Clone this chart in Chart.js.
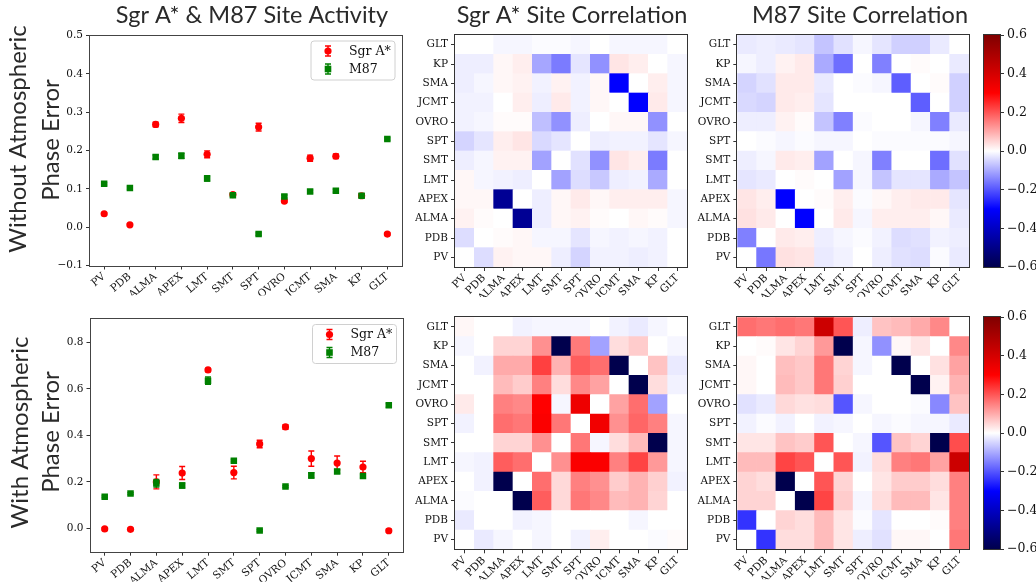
<!DOCTYPE html>
<html>
<head>
<meta charset="utf-8">
<script src="https://cdn.jsdelivr.net/npm/chart.js@4.4.0/dist/chart.umd.min.js"></script>
<style>
  html, body { margin: 0; padding: 0; background: #fff; }
  #fig { position: relative; width: 1036px; height: 586px; overflow: hidden; }
  #fig canvas { position: absolute; left: 0; top: 0; }
</style>
</head>
<body>
<div id="fig"></div>
<script>
// ---- data ----
const sites = ['PV', 'PDB', 'ALMA', 'APEX', 'LMT', 'SMT', 'SPT', 'OVRO', 'JCMT', 'SMA', 'KP', 'GLT'];

// site activity, without atmospheric phase error
const sgrNoAtm    = [0.035, 0.006, 0.268, 0.284, 0.19, 0.085, 0.261, 0.068, 0.18, 0.185, 0.082, -0.018];
const sgrNoAtmErr = [0.003, 0.003, 0.006, 0.011, 0.009, 0.003, 0.01, 0.004, 0.008, 0.006, 0.004, 0.003];
const m87NoAtm    = [0.113, 0.102, 0.183, 0.186, 0.127, 0.083, -0.018, 0.08, 0.093, 0.095, 0.082, 0.23];
const m87NoAtmErr = [0.003, 0.003, 0.005, 0.007, 0.007, 0.004, 0.003, 0.004, 0.004, 0.004, 0.005, 0.003];

// site activity, with atmospheric phase error
const sgrAtm    = [-0.002, -0.004, 0.2, 0.238, 0.681, 0.24, 0.363, 0.436, 0.30, 0.281, 0.264, -0.01];
const sgrAtmErr = [0.005, 0.005, 0.03, 0.028, 0.007, 0.027, 0.016, 0.01, 0.033, 0.03, 0.025, 0.007];
const m87Atm    = [0.136, 0.15, 0.194, 0.184, 0.635, 0.291, -0.009, 0.18, 0.228, 0.245, 0.225, 0.529];
const m87AtmErr = [0.004, 0.004, 0.016, 0.011, 0.016, 0.005, 0.004, 0.004, 0.011, 0.008, 0.007, 0.008];

const yTicksNoAtm = [-0.1, 0, 0.1, 0.2, 0.3, 0.4, 0.5];
const yTicksAtm = [0, 0.2, 0.4, 0.6, 0.8];
const cbTicks = [-0.6, -0.4, -0.2, 0, 0.2, 0.4, 0.6];

// correlation matrices, rows PV..GLT (bottom to top), columns PV..GLT
const sgrCorrNoAtm = [
  [0, -0.04, 0.015, 0.01, 0.01, -0.02, -0.05, -0.015, -0.015, -0.02, -0.015, 0],
  [-0.04, 0, 0.005, 0.01, -0.01, -0.01, -0.03, -0.01, -0.015, -0.01, -0.015, 0],
  [0.015, 0.005, 0, -0.48, -0.02, 0.01, 0.015, 0.005, 0, 0.01, 0.005, -0.01],
  [0.01, 0.01, -0.48, 0, -0.02, 0.01, 0.025, 0.01, 0.02, 0.02, 0.02, -0.01],
  [0.01, -0.01, -0.015, -0.02, 0, -0.11, -0.04, -0.065, -0.02, -0.015, -0.1, 0],
  [-0.02, -0.01, 0.015, 0.015, -0.11, 0, -0.035, -0.13, 0.03, 0.02, -0.155, 0],
  [-0.05, -0.03, 0.02, 0.03, -0.045, -0.03, 0, -0.02, -0.015, -0.015, -0.03, -0.01],
  [-0.015, -0.01, 0.005, 0.005, -0.075, -0.13, -0.02, 0, 0.01, 0.01, -0.13, 0],
  [-0.015, -0.015, 0, 0.02, -0.02, 0.025, -0.015, 0.01, 0, -0.3, 0.025, -0.01],
  [-0.02, -0.01, 0.01, 0.015, -0.015, 0.015, -0.015, 0.01, -0.3, 0, 0.02, -0.01],
  [-0.02, -0.02, 0.01, 0.02, -0.105, -0.155, -0.03, -0.13, 0.03, 0.02, 0, -0.01],
  [0, 0, -0.01, -0.01, -0.005, -0.005, -0.01, 0, -0.01, -0.01, -0.01, 0]
];
const m87CorrNoAtm = [
  [0, -0.16, 0.035, 0.03, -0.025, -0.015, 0, -0.02, -0.035, -0.04, -0.005, -0.025],
  [-0.15, 0, 0.025, 0.02, -0.02, -0.01, -0.005, -0.015, -0.04, -0.035, -0.015, -0.02],
  [0.035, 0.025, 0, -0.3, 0, 0.025, -0.01, 0.02, 0.02, 0.02, 0.01, -0.025],
  [0.03, 0.02, -0.3, 0, 0.005, 0.02, -0.005, 0.01, 0.02, 0.025, 0.025, -0.03],
  [-0.03, -0.025, 0, 0.005, 0, -0.11, -0.01, -0.07, -0.03, -0.03, -0.1, -0.07],
  [-0.02, -0.01, 0.025, 0.02, -0.11, 0, -0.01, -0.15, 0, 0, -0.17, -0.035],
  [0, -0.005, -0.01, -0.005, -0.01, -0.01, 0, -0.005, -0.005, -0.005, -0.005, -0.01],
  [-0.02, -0.02, 0.015, 0.005, -0.07, -0.15, -0.005, 0, 0, -0.01, -0.15, -0.025],
  [-0.045, -0.05, 0.025, 0.02, -0.03, 0, 0, 0, 0, -0.19, 0, -0.055],
  [-0.05, -0.035, 0.025, 0.025, -0.025, 0, -0.005, -0.01, -0.19, 0, 0.005, -0.055],
  [-0.01, -0.02, 0.015, 0.025, -0.1, -0.17, 0, -0.15, 0, 0.005, 0, -0.025],
  [-0.025, -0.02, -0.025, -0.03, -0.07, -0.035, -0.01, -0.03, -0.055, -0.055, -0.025, 0]
];
const sgrCorrAtm = [
  [0, -0.025, -0.01, 0, -0.01, 0, -0.015, 0.02, 0, 0, -0.005, 0.005],
  [-0.025, 0, 0, -0.015, -0.01, 0, 0, 0, 0, -0.01, 0, 0],
  [-0.005, 0, 0, -0.6, 0.19, 0.045, 0.16, 0.14, 0.08, 0.09, 0.05, 0],
  [0, -0.015, -0.6, 0, 0.17, 0.045, 0.15, 0.13, 0.06, 0.09, 0.055, -0.015],
  [-0.01, -0.015, 0.19, 0.17, 0, 0.13, 0.31, 0.31, 0.15, 0.22, 0.12, -0.01],
  [0, 0, 0.05, 0.05, 0.13, 0, 0.16, -0.01, 0.04, 0.08, -0.6, -0.01],
  [-0.015, 0, 0.17, 0.16, 0.31, 0.16, 0, 0.33, 0.13, 0.18, 0.15, -0.01],
  [0.025, 0, 0.15, 0.14, 0.3, -0.01, 0.34, 0, 0.11, 0.17, -0.11, 0],
  [0, 0, 0.08, 0.06, 0.15, 0.04, 0.14, 0.11, 0, -0.6, 0.04, -0.015],
  [0, -0.015, 0.1, 0.1, 0.225, 0.09, 0.19, 0.17, -0.6, 0, 0.07, -0.025],
  [-0.01, 0, 0.05, 0.05, 0.13, -0.6, 0.157, -0.11, 0.04, 0.06, 0, -0.01],
  [0.01, 0, 0, -0.015, -0.01, -0.01, -0.01, 0, -0.015, -0.025, -0.01, 0]
];
const m87CorrAtm = [
  [0, -0.24, 0.04, 0.04, 0.08, 0.03, -0.02, -0.035, 0.01, 0.01, 0, 0.16],
  [-0.24, 0, 0.05, 0.04, 0.08, 0.03, -0.005, -0.03, 0, 0, 0.005, 0.15],
  [0.05, 0.05, 0, -0.6, 0.22, 0.06, -0.01, 0.04, 0.08, 0.08, 0.03, 0.15],
  [0.05, 0.04, -0.6, 0, 0.2, 0.05, 0, 0.03, 0.06, 0.06, 0.04, 0.15],
  [0.08, 0.08, 0.22, 0.2, 0, 0.2, -0.015, 0.04, 0.15, 0.16, 0.11, 0.42],
  [0.03, 0.03, 0.07, 0.06, 0.2, 0, -0.01, -0.2, 0.07, 0.05, -0.6, 0.21],
  [-0.015, -0.005, -0.015, 0, -0.015, -0.01, 0, -0.01, -0.005, -0.01, -0.01, -0.025],
  [-0.035, -0.025, 0.045, 0.035, 0.04, -0.2, -0.01, 0, 0, -0.005, -0.14, 0.07],
  [0.01, 0, 0.08, 0.065, 0.16, 0.055, 0, 0, 0, -0.6, 0.015, 0.09],
  [0.01, 0, 0.075, 0.065, 0.16, 0.05, -0.01, 0, -0.6, 0, 0.035, 0.11],
  [0, 0.005, 0.03, 0.05, 0.12, -0.6, -0.01, -0.13, 0.01, 0.03, 0, 0.14],
  [0.17, 0.16, 0.17, 0.16, 0.42, 0.2, -0.02, 0.07, 0.08, 0.1, 0.14, 0]
];

// ---- styling helpers ----
const RED = '#ff0000';
const GREEN = '#008000';
const SANS = 'Lato, "Open Sans", sans-serif';
const SERIF = '"DejaVu Serif", serif';
const tickFont = { family: SERIF, size: 10.5 };
const cbFont = { family: SERIF, size: 12.5 };
const W = 1036, H = 586;

const fig = document.getElementById('fig');
function addCanvas() {
  const c = document.createElement('canvas');
  c.width = W; c.height = H;
  fig.appendChild(c);
  return c;
}

// pads the canvas so the plot area lands on the given box
function padFor(area, yW, xH, rightW) {
  return { left: area.l - yW, top: area.t, right: W - area.r - (rightW || 0), bottom: H - area.b - xH };
}

const fmtTick = v => (Math.abs(v) < 1e-9 ? 0 : v).toFixed(1).replace('-', '\u2212');

// matplotlib "seismic" colormap, vmin -0.6 / vmax 0.6
const seismicStops = [[0, 0, 0.3], [0, 0, 1], [1, 1, 1], [1, 0, 0], [0.5, 0, 0]];
function seismicAt(t) {
  t = Math.min(1, Math.max(0, t));
  const s = t * 4;
  const i = Math.min(3, Math.floor(s));
  const f = s - i;
  const c = seismicStops[i].map((a, k) => a + (seismicStops[i + 1][k] - a) * f);
  return `rgb(${Math.round(c[0] * 255)},${Math.round(c[1] * 255)},${Math.round(c[2] * 255)})`;
}
const seismic = v => seismicAt((v + 0.6) / 1.2);

const axisGrid = { drawOnChartArea: false, tickLength: 4, color: '#333', lineWidth: 1 };

// ---- plugins ----
const framePlugin = {
  id: 'frame',
  afterDraw(chart, args, opts) {
    const a = chart.chartArea, ctx = chart.ctx;
    ctx.save();
    ctx.strokeStyle = opts.color || '#333';
    ctx.lineWidth = 1;
    ctx.strokeRect(Math.round(a.left) - 0.5, Math.round(a.top) - 0.5,
      Math.round(a.right) - Math.round(a.left) + 1, Math.round(a.bottom) - Math.round(a.top) + 1);
    ctx.restore();
  }
};

const errorBarPlugin = {
  id: 'errorBars',
  beforeDatasetDraw(chart, args) {
    const ds = chart.data.datasets[args.index];
    if (!ds.errors) return;
    const ys = chart.scales.y, ctx = chart.ctx;
    ctx.save();
    ctx.strokeStyle = ds.backgroundColor;
    ctx.lineWidth = 1.4;
    args.meta.data.forEach((pt, i) => {
      const v = ds.data[i].y, e = ds.errors[i];
      const y0 = ys.getPixelForValue(v - e), y1 = ys.getPixelForValue(v + e);
      ctx.beginPath();
      ctx.moveTo(pt.x, y0); ctx.lineTo(pt.x, y1);
      ctx.moveTo(pt.x - 3, y0); ctx.lineTo(pt.x + 3, y0);
      ctx.moveTo(pt.x - 3, y1); ctx.lineTo(pt.x + 3, y1);
      ctx.stroke();
    });
    ctx.restore();
  }
};

const boxLegendPlugin = {
  id: 'boxLegend',
  afterDraw(chart) {
    const a = chart.chartArea, ctx = chart.ctx;
    const w = 84, h = 39;
    const x = a.right - 6.5 - w, y = a.top + 5.5;
    ctx.save();
    ctx.beginPath();
    ctx.roundRect(x, y, w, h, 3);
    ctx.fillStyle = 'rgba(255,255,255,0.8)';
    ctx.fill();
    ctx.strokeStyle = '#d0d0d0';
    ctx.lineWidth = 1;
    ctx.stroke();
    chart.data.datasets.forEach((ds, i) => {
      const cy = y + 10 + i * 18, cx = x + 17;
      ctx.strokeStyle = ds.backgroundColor;
      ctx.lineWidth = 1.4;
      ctx.beginPath();
      ctx.moveTo(cx, cy - 5); ctx.lineTo(cx, cy + 5);
      ctx.moveTo(cx - 3, cy - 5); ctx.lineTo(cx + 3, cy - 5);
      ctx.moveTo(cx - 3, cy + 5); ctx.lineTo(cx + 3, cy + 5);
      ctx.stroke();
      ctx.fillStyle = ds.backgroundColor;
      if (ds.pointStyle === 'rect') ctx.fillRect(cx - 3.3, cy - 3.3, 6.6, 6.6);
      else { ctx.beginPath(); ctx.arc(cx, cy, 3.6, 0, Math.PI * 2); ctx.fill(); }
      ctx.fillStyle = '#111';
      ctx.font = `12.5px ${SERIF}`;
      ctx.textBaseline = 'middle';
      ctx.fillText(ds.label, x + 38, cy + 0.5);
    });
    ctx.restore();
  }
};

// titles and the big row labels
const figTexts = [
  { text: 'Sgr A* & M87 Site Activity', x: 252, y: 23, size: 23.5 },
  { text: 'Sgr A* Site Correlation', x: 572, y: 23, size: 23.5 },
  { text: 'M87 Site Correlation', x: 860, y: 23, size: 23.5 },
  { text: 'Without Atmospheric', x: 25.5, y: 139, size: 24, rot: true },
  { text: 'Phase Error', x: 58.5, y: 140, size: 24, rot: true },
  { text: 'With Atmospheric', x: 28, y: 432.5, size: 24, rot: true },
  { text: 'Phase Error', x: 59, y: 432, size: 24, rot: true }
];
const figTextPlugin = {
  id: 'figText',
  afterDraw(chart) {
    const ctx = chart.ctx;
    ctx.save();
    ctx.fillStyle = '#2a2a2a';
    ctx.textAlign = 'center';
    ctx.textBaseline = 'alphabetic';
    figTexts.forEach(t => {
      ctx.font = `${t.size}px ${SANS}`;
      ctx.save();
      ctx.translate(t.x, t.y);
      if (t.rot) ctx.rotate(-Math.PI / 2);
      ctx.fillText(t.text, 0, 0);
      ctx.restore();
    });
    ctx.restore();
  }
};

// ---- charts ----
function activityChart(area, sgr, sgrErr, m87, m87Err, yMin, yMax, yTicks, withTexts) {
  const plugins = [framePlugin, errorBarPlugin, boxLegendPlugin];
  if (withTexts) plugins.push(figTextPlugin);
  return new Chart(addCanvas(), {
    type: 'scatter',
    data: {
      datasets: [
        { label: 'Sgr A*', data: sgr.map((v, i) => ({ x: i, y: v })), errors: sgrErr,
          backgroundColor: RED, borderWidth: 0, pointStyle: 'circle', pointRadius: 3.6, order: 1 },
        { label: 'M87', data: m87.map((v, i) => ({ x: i, y: v })), errors: m87Err,
          backgroundColor: GREEN, borderWidth: 0, pointStyle: 'rect', pointRadius: 4.6, order: 0 }
      ]
    },
    options: {
      animation: false, responsive: false, devicePixelRatio: 1,
      layout: { padding: padFor(area, 40, 30) },
      scales: {
        x: {
          type: 'linear', min: -0.55, max: 11.55,
          afterBuildTicks: s => { s.ticks = sites.map((_, i) => ({ value: i })); },
          afterFit: s => { s.height = 30; },
          ticks: { callback: v => sites[v], autoSkip: false, minRotation: 40, maxRotation: 40, font: tickFont, color: '#111', padding: 1 },
          grid: axisGrid, border: { display: false }
        },
        y: {
          min: yMin, max: yMax,
          afterBuildTicks: s => { s.ticks = yTicks.map(v => ({ value: v })); },
          afterFit: s => { s.width = 40; },
          ticks: { callback: fmtTick, font: tickFont, color: '#111', padding: 3 },
          grid: axisGrid, border: { display: false }
        }
      },
      plugins: { legend: { display: false }, tooltip: { enabled: false }, frame: { color: '#444' } }
    },
    plugins
  });
}

function corrChart(area, matrix) {
  return new Chart(addCanvas(), {
    type: 'bar',
    data: {
      labels: sites,
      datasets: matrix.map((row, r) => ({
        label: sites[r],
        data: row.map(() => 1),
        backgroundColor: row.map(seismic),
        borderWidth: 0, barPercentage: 1, categoryPercentage: 1
      }))
    },
    options: {
      animation: false, responsive: false, devicePixelRatio: 1,
      layout: { padding: padFor(area, 40, 30) },
      scales: {
        x: {
          stacked: true,
          afterFit: s => { s.height = 30; },
          ticks: { autoSkip: false, minRotation: 45, maxRotation: 45, font: tickFont, color: '#111', padding: 1 },
          grid: Object.assign({ offset: false }, axisGrid), border: { display: false }
        },
        y: {
          stacked: true, min: 0, max: 12,
          afterBuildTicks: s => { s.ticks = sites.map((_, i) => ({ value: i + 0.5 })); },
          afterFit: s => { s.width = 40; },
          ticks: { callback: v => sites[Math.floor(v)], font: tickFont, color: '#111', padding: 3 },
          grid: axisGrid, border: { display: false }
        }
      },
      plugins: { legend: { display: false }, tooltip: { enabled: false }, frame: { color: '#333' } }
    },
    plugins: [framePlugin]
  });
}

function seismicGradient(chart) {
  const a = chart.chartArea;
  if (!a) return seismicAt(0.5);
  const g = chart.ctx.createLinearGradient(0, a.bottom, 0, a.top);
  for (let k = 0; k <= 24; k++) g.addColorStop(k / 24, seismicAt(k / 24));
  return g;
}

function colorbarChart(area) {
  return new Chart(addCanvas(), {
    type: 'bar',
    data: {
      labels: ['corr'],
      datasets: [{ data: [[cbTicks[0], cbTicks[cbTicks.length - 1]]], backgroundColor: c => seismicGradient(c.chart),
        borderWidth: 0, barPercentage: 1, categoryPercentage: 1 }]
    },
    options: {
      animation: false, responsive: false, devicePixelRatio: 1,
      layout: { padding: padFor(area, 0, 0, 40) },
      scales: {
        x: { display: false },
        y: {
          position: 'right', min: -0.6, max: 0.6,
          afterBuildTicks: s => { s.ticks = cbTicks.map(v => ({ value: v })); },
          afterFit: s => { s.width = 40; },
          ticks: { callback: fmtTick, font: cbFont, color: '#111', padding: 3 },
          grid: axisGrid, border: { display: false }
        }
      },
      plugins: { legend: { display: false }, tooltip: { enabled: false }, frame: { color: '#333' } }
    },
    plugins: [framePlugin]
  });
}

activityChart({ l: 90, r: 401.5, t: 35.5, b: 265.5 }, sgrNoAtm, sgrNoAtmErr, m87NoAtm, m87NoAtmErr, -0.1, 0.5, yTicksNoAtm, true);
activityChart({ l: 90.5, r: 403, t: 319, b: 551.7 }, sgrAtm, sgrAtmErr, m87Atm, m87AtmErr, -0.1, 0.9, yTicksAtm, false);

corrChart({ l: 455, r: 687, t: 35, b: 267 }, sgrCorrNoAtm);
corrChart({ l: 737.3, r: 969, t: 35, b: 267 }, m87CorrNoAtm);
corrChart({ l: 455, r: 687, t: 317.3, b: 549.3 }, sgrCorrAtm);
corrChart({ l: 737.3, r: 969, t: 317.3, b: 549.3 }, m87CorrAtm);

colorbarChart({ l: 984, r: 1000, t: 35, b: 267 });
colorbarChart({ l: 984, r: 1000, t: 317, b: 549 });
</script>
</body>
</html>
